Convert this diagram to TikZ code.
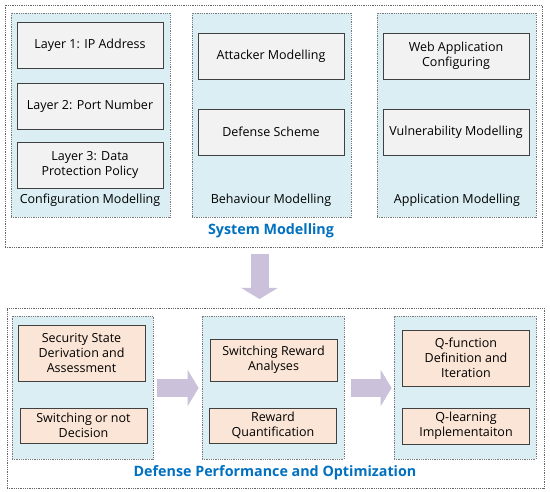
\documentclass[tikz,border=0pt]{standalone}
\usepackage{fontspec}
\setmainfont{Open Sans}
\usetikzlibrary{arrows.meta}
\definecolor{panelblue}{HTML}{DAEEF3}
\definecolor{boxgrey}{HTML}{F2F2F2}
\definecolor{peach}{HTML}{FBE5D6}
\definecolor{lavender}{HTML}{CCC1DA}
\definecolor{titleblue}{HTML}{0070C0}
\definecolor{edge}{HTML}{404040}

\begin{document}
\begin{tikzpicture}[
  x=1pt, y=-1pt,
  font=\fontsize{12.5}{15}\selectfont,
  outer/.style={draw=edge!80, densely dotted, line width=0.8pt,
                fill=white, inner sep=0pt},
  panel/.style={draw=edge!70, densely dotted, line width=0.8pt,
                fill=panelblue, inner sep=0pt},
  sysbox/.style={draw=edge, fill=boxgrey, line width=0.8pt,
                 minimum width=146pt, minimum height=46pt,
                 align=center, inner sep=1pt},
  optbox/.style={draw=edge, fill=peach, line width=0.8pt,
                 minimum width=127pt, align=center, inner sep=1pt},
  caption/.style={inner sep=1pt},
  title/.style={font=\fontsize{14.3}{17}\selectfont\bfseries,
                text=titleblue, inner sep=1pt},
  fat/.style={draw=lavender, line width=18pt,
              -{Triangle[length=11pt, width=36pt]}},
]
\useasboundingbox (0,0) rectangle (550,492);

% system modelling
\node[outer, minimum width=537pt, minimum height=242pt] (sys) at (273.5,126) {};
\node[panel, minimum width=159pt, minimum height=204pt] (conf) at (90.5,115) {};
\node[panel, minimum width=159pt, minimum height=204pt] (beh) at (271.5,115) {};
\node[panel, minimum width=159pt, minimum height=204pt] (app) at (456.5,115) {};

\node[sysbox] (ip) at (90,45) {Layer 1: IP Address};
\node[sysbox] (port) at (90,106) {Layer 2: Port Number};
\node[sysbox] (dpp) at (90,165) {Layer 3: Data\\Protection Policy};
\node[caption] (confl) at (90,200) {Configuration Modelling};

\node[sysbox] (att) at (271,56) {Attacker Modelling};
\node[sysbox] (def) at (271,132) {Defense Scheme};
\node[caption] (behl) at (271,200) {Behaviour Modelling};

\node[sysbox] (web) at (456,56) {Web Application\\Configuring};
\node[sysbox] (vul) at (456,132) {Vulnerability Modelling};
\node[caption] (appl) at (457,200) {Application Modelling};

\node[title] (sysl) at (271,231) {System Modelling};

% defense performance and optimization
\node[outer, minimum width=537pt, minimum height=180pt] (perf) at (275.5,398) {};
\node[panel, minimum width=141pt, minimum height=143pt] (state) at (82.5,387.5) {};
\node[panel, minimum width=142pt, minimum height=143pt] (rew) at (273,387.5) {};
\node[panel, minimum width=142pt, minimum height=143pt] (qlrn) at (465,387.5) {};

\node[optbox, minimum height=56pt] (ssd) at (81.5,353) {Security State\\Derivation and\\Assessment};
\node[optbox, minimum height=35pt] (sw) at (83.5,425.5) {Switching or not\\Decision};

\node[optbox, minimum height=42pt] (sra) at (273.5,360) {Switching Reward\\Analyses};
\node[optbox, minimum height=35pt] (rq) at (273,425.5) {Reward\\Quantification};

\node[optbox, minimum height=56pt] (qf) at (466,358) {Q-function\\Definition and\\Iteration};
\node[optbox, minimum height=36pt] (ql) at (466,426) {Q-learning\\Implementaiton};

\node[title] (perfl) at (275,473) {Defense Performance and Optimization};

% block arrows
\coordinate (dtop) at (259.5,254);
\coordinate (dbot) at (259.5,299);
\draw[fat] (dtop) -- (dbot);
\draw[fat, shorten <=4pt, shorten >=3pt] (state.east |- 0,388) -- (rew.west |- 0,388);
\draw[fat, shorten <=7pt, shorten >=2pt] (rew.east |- 0,388) -- (qlrn.west |- 0,388);
\end{tikzpicture}
\end{document}
